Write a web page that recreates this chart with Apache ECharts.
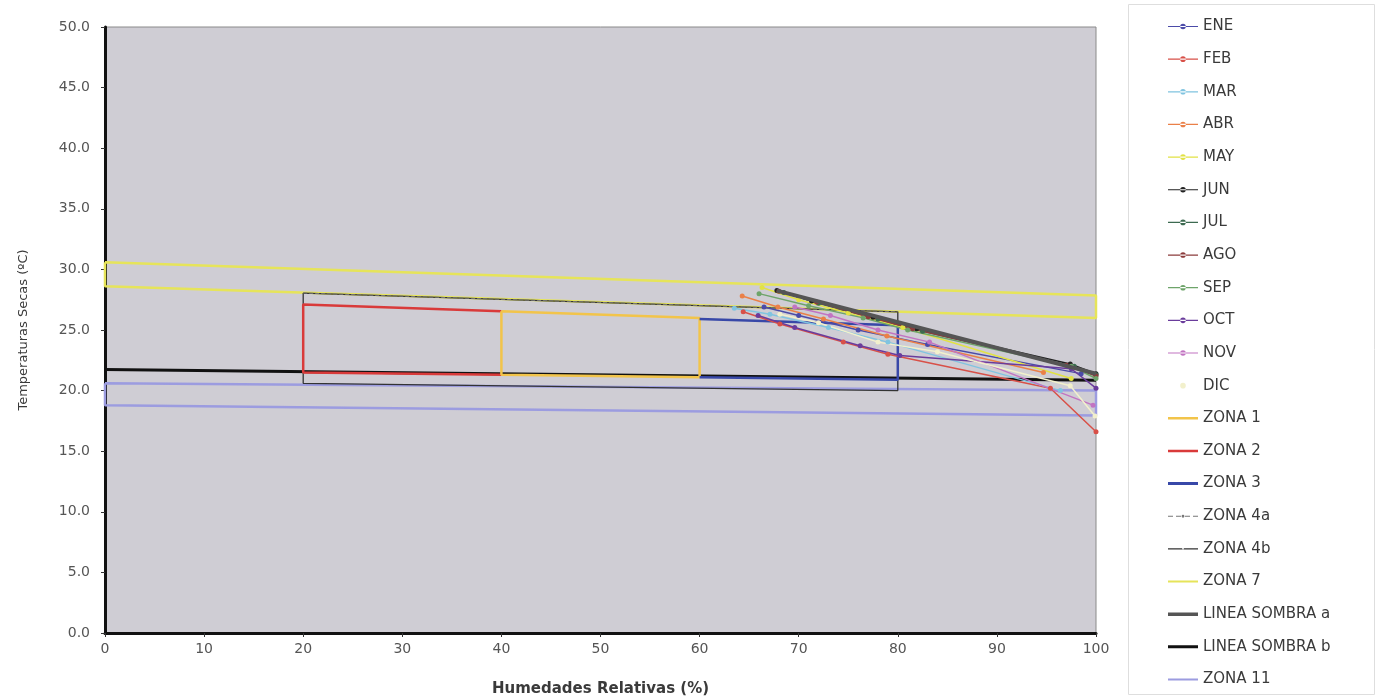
<!DOCTYPE html>
<html>
<head>
<meta charset="utf-8">
<script src="https://cdn.jsdelivr.net/npm/echarts@6/dist/echarts.min.js"></script>
<style>
  html, body { margin: 0; padding: 0; background: #fff; }
  #main { width: 1378px; height: 698px; }
</style>
</head>
<body>
<div id="main"></div>
<script>
// meses (humedad relativa %, temperatura seca ºC)
const eneX = [66.5, 70.0, 76.0, 83.0, 98.5];
const eneY = [26.9, 26.2, 25.0, 23.8, 21.4];
const febX = [64.4, 68.1, 74.5, 79.0, 95.4, 100];
const febY = [26.5, 25.5, 24.0, 23.0, 20.2, 16.6];
const marX = [63.5, 67.1, 73.0, 79.0, 96.4];
const marY = [26.8, 26.3, 25.2, 24.0, 20.0];
const abrX = [64.3, 67.9, 72.5, 78.9, 94.7];
const abrY = [27.8, 26.9, 25.9, 24.5, 21.5];
const mayX = [66.3, 70.0, 75.0, 80.5, 97.5];
const mayY = [28.5, 27.5, 26.4, 25.2, 21.0];
const junX = [67.8, 71.3, 77.5, 81.9, 97.4, 100];
const junY = [28.25, 27.4, 26.05, 25.1, 22.2, 21.4];
const julX = [68.5, 72.0, 78.0, 82.5, 97.8, 100];
const julY = [28.1, 27.2, 25.9, 24.9, 22.0, 21.3];
const agoX = [68.0, 71.8, 77.0, 81.5, 97.0, 100];
const agoY = [28.2, 27.3, 26.1, 25.1, 22.1, 21.2];
const sepX = [66.0, 71.0, 76.5, 81.0, 97.5, 100];
const sepY = [28.0, 27.0, 26.0, 25.0, 22.0, 21.0];
const octX = [65.9, 69.6, 76.2, 80.2, 97.5, 100];
const octY = [26.2, 25.2, 23.7, 22.9, 21.8, 20.2];
const novX = [69.6, 73.2, 78.0, 83.2, 99.7];
const novY = [26.9, 26.2, 25.0, 24.0, 18.8];
const dicX = [68.1, 72.0, 78.0, 84.0, 97.4, 99.9];
const dicY = [26.3, 25.6, 24.0, 23.2, 20.4, 17.9];

// zonas
const zona1X = [40, 40, 60, 60, 40];
const zona1Y = [26.55, 21.3, 21.1, 26.0, 26.55];
const zona2X = [40, 20, 20, 40];
const zona2Y = [26.55, 27.1, 21.5, 21.3];
const zona3X = [60, 80, 80, 60];
const zona3Y = [25.9, 25.4, 20.9, 21.1];
const zona4aX = [20, 80];
const zona4aY = [28.05, 26.5];
const zona4bX = [20, 80, 80, 20, 20];
const zona4bY = [28.05, 26.5, 20.0, 20.6, 28.05];
const zona7X = [0, 100, 100, 0, 0];
const zona7Y = [30.6, 27.85, 26.0, 28.6, 30.6];
const sombraAX = [67.8, 100];
const sombraAY = [28.25, 21.4];
const sombraBX = [0, 100];
const sombraBY = [21.75, 20.85];
const zona11X = [0, 100, 100, 0, 0];
const zona11Y = [20.6, 20.0, 17.95, 18.8, 20.6];

const pares = (xs, ys) => xs.map((x, i) => [x, ys[i]]);

// iconos de leyenda (caja 30x10, esquinas invisibles para fijar el tamaño)
const caja = 'M0,0h0.01v0.01h-0.01z M29.99,9.99h0.01v0.01h-0.01z ';
const punto = (r) => 'M' + (15 - r) + ',5a' + r + ',' + r + ' 0 1,0 ' + (2 * r) + ',0a' + r + ',' + r + ' 0 1,0 ' + (-2 * r) + ',0z';
const linea = (w) => 'M0,' + (5 - w / 2) + 'h30v' + w + 'h-30z ';
const iconoMes = 'path://' + caja + linea(1.2) + punto(2.8);
const iconoDic = 'path://' + caja + punto(2.8);
const iconoZona = (w) => 'path://' + caja + linea(w);
const icono4a = 'path://' + caja + 'M0,4.5h5v1h-5z M8,4.5h5v1h-5z M17,4.5h5v1h-5z M25,4.5h5v1h-5z ' + punto(1.4);
const icono4b = 'path://' + caja + linea(1.2) + punto(1);

const mes = (name, xs, ys, color) => ({
    name: name, type: 'line', data: pares(xs, ys),
    symbol: 'circle', symbolSize: 5,
    lineStyle: { color: color, width: 1.5 },
    itemStyle: { color: color },
    z: 3
});

const zona = (name, xs, ys, color, width, extra) => Object.assign({
    name: name, type: 'line', data: pares(xs, ys),
    symbol: 'none',
    lineStyle: { color: color, width: width },
    itemStyle: { color: color },
    z: 2
}, extra || {});

const chart = echarts.init(document.getElementById('main'));

const option = {
    backgroundColor: '#ffffff',
    animation: false,
    textStyle: { fontFamily: 'DejaVu Sans, Verdana, sans-serif' },
    grid: {
        left: 105, right: 282, top: 27, bottom: 65,
        outerBoundsMode: 'none', containLabel: false,
        show: true, backgroundColor: '#cfcdd4', borderColor: '#8a8a8a', borderWidth: 1
    },
    graphic: [{
        type: 'rect', left: 1128, top: 4, z: -1,
        shape: { width: 246, height: 690 },
        style: { fill: '#ffffff', stroke: '#dedede', lineWidth: 1 }
    }],
    legend: {
        orient: 'vertical', left: 1163, top: 14, height: 690,
        itemWidth: 30, itemHeight: 10, itemGap: 17.65,
        textStyle: { fontSize: 15, color: '#3a3a3a' },
        data: [
            { name: 'ENE', icon: iconoMes }, { name: 'FEB', icon: iconoMes },
            { name: 'MAR', icon: iconoMes }, { name: 'ABR', icon: iconoMes },
            { name: 'MAY', icon: iconoMes }, { name: 'JUN', icon: iconoMes },
            { name: 'JUL', icon: iconoMes }, { name: 'AGO', icon: iconoMes },
            { name: 'SEP', icon: iconoMes }, { name: 'OCT', icon: iconoMes },
            { name: 'NOV', icon: iconoMes }, { name: 'DIC', icon: iconoDic },
            { name: 'ZONA 1', icon: iconoZona(2.6) }, { name: 'ZONA 2', icon: iconoZona(2.6) },
            { name: 'ZONA 3', icon: iconoZona(3) }, { name: 'ZONA 4a', icon: icono4a },
            { name: 'ZONA 4b', icon: icono4b }, { name: 'ZONA 7', icon: iconoZona(2) },
            { name: 'LINEA SOMBRA a', icon: iconoZona(3.5) }, { name: 'LINEA SOMBRA b', icon: iconoZona(3) },
            { name: 'ZONA 11', icon: iconoZona(2) }
        ]
    },
    xAxis: {
        type: 'value', min: 0, max: 100, interval: 10,
        name: 'Humedades Relativas (%)', nameLocation: 'middle', nameGap: 49,
        nameTextStyle: { fontSize: 15, fontWeight: 'bold', color: '#3a3a3a' },
        axisLine: { lineStyle: { color: '#111', width: 3 } },
        axisTick: { show: true, length: 4, lineStyle: { color: '#333', width: 1 } },
        axisLabel: { fontSize: 14, color: '#555', margin: 9 },
        splitLine: { show: false }
    },
    yAxis: {
        type: 'value', min: 0, max: 50, interval: 5,
        name: 'Temperaturas Secas (ºC)', nameLocation: 'middle', nameGap: 75,
        nameTextStyle: { fontSize: 13, color: '#3a3a3a' },
        axisLine: { show: true, lineStyle: { color: '#111', width: 3 } },
        axisTick: { show: true, length: 4, lineStyle: { color: '#333', width: 1 } },
        axisLabel: { fontSize: 14, color: '#555', margin: 15, formatter: v => v.toFixed(1) },
        splitLine: { show: false }
    },
    series: [
        zona('ZONA 7', zona7X, zona7Y, '#e6e45a', 2.5),
        zona('ZONA 11', zona11X, zona11Y, '#9c9ce0', 2.5),
        zona('ZONA 4b', zona4bX, zona4bY, '#333333', 1.3),
        zona('ZONA 4a', zona4aX, zona4aY, '#777777', 1, {
            lineStyle: { color: '#777', width: 1, type: 'dashed' }
        }),
        zona('LINEA SOMBRA b', sombraBX, sombraBY, '#111111', 3),
        zona('ZONA 2', zona2X, zona2Y, '#d93a3a', 2.5),
        zona('ZONA 1', zona1X, zona1Y, '#f2c44a', 2.5),
        zona('ZONA 3', zona3X, zona3Y, '#3848a8', 2.5),
        mes('ENE', eneX, eneY, '#4b4ba8'),
        mes('FEB', febX, febY, '#d85048'),
        mes('MAR', marX, marY, '#80c4e0'),
        mes('ABR', abrX, abrY, '#ea8048'),
        mes('MAY', mayX, mayY, '#e2e244'),
        mes('JUN', junX, junY, '#222222'),
        mes('JUL', julX, julY, '#3c6a50'),
        mes('AGO', agoX, agoY, '#8c3c3c'),
        mes('SEP', sepX, sepY, '#6ea46a'),
        mes('OCT', octX, octY, '#6a3c9c'),
        mes('NOV', novX, novY, '#c274c2'),
        mes('DIC', dicX, dicY, '#f2f0cc'),
        zona('LINEA SOMBRA a', sombraAX, sombraAY, '#555555', 4, { z: 4 })
    ]
};

chart.setOption(option);
</script>
</body>
</html>
